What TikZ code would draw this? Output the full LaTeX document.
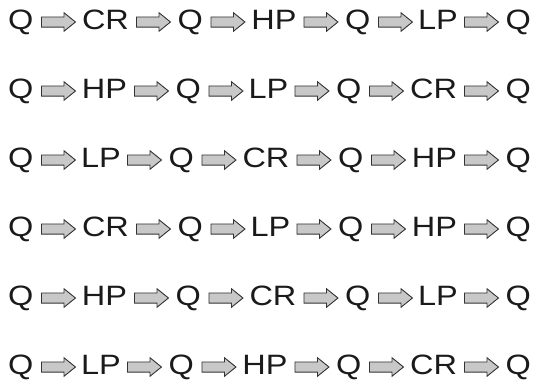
\documentclass[tikz,border=0pt]{standalone}
\usepackage{fontspec}
\setmainfont{Liberation Sans}[FakeStretch=1.16]
\usetikzlibrary{shapes.arrows,positioning}
\definecolor{ink}{HTML}{1A1A1A}
\definecolor{arrowfill}{HTML}{C8C8C8}
\definecolor{arrowline}{HTML}{333333}
% fixed box widths so every row has the same rhythm
\newcommand{\tokbox}[1]{%
  \ifnum\pdfstrcmp{#1}{Q}=0 \makebox[23.5pt]{#1}\else
  \ifnum\pdfstrcmp{#1}{CR}=0 \makebox[44pt]{#1}\else
  \ifnum\pdfstrcmp{#1}{HP}=0 \makebox[42pt]{#1}\else
  \makebox[35pt]{#1}\fi\fi\fi}
\tikzset{
  token/.style={inner sep=0pt, outer sep=0pt, text height=20pt, text depth=0pt,
    font=\fontsize{28}{28}\selectfont, text=ink},
  flow/.style={single arrow, draw=arrowline, fill=arrowfill, line width=0.9pt,
    outer sep=0.45pt, minimum height=34pt, inner xsep=0pt, inner ysep=4.6pt,
    single arrow head extend=4.2pt, single arrow tip angle=78,
    text height=0pt, text depth=0pt, yshift=-2.5pt},
}
\begin{document}
\begin{tikzpicture}[x=1pt,y=1pt,node distance=8.5pt]
\useasboundingbox (0,0) rectangle (537,-383);
\foreach \row/\y/\a/\b/\c in {1/19.5/CR/HP/LP, 2/88.5/HP/LP/CR, 3/157.5/LP/CR/HP,
                             4/226.5/CR/LP/HP, 5/295.5/HP/CR/LP, 6/364.5/LP/HP/CR} {
  \node[token, anchor=west] (r\row-t1) at (9,-\y) {\tokbox{Q}};
  \node[flow, right=of r\row-t1] (r\row-f1) {};
  \node[token, right=of r\row-t1, xshift=42.5pt] (r\row-t2) {\tokbox{\a}};
  \node[flow, right=of r\row-t2] (r\row-f2) {};
  \node[token, right=of r\row-t2, xshift=42.5pt] (r\row-t3) {\tokbox{Q}};
  \node[flow, right=of r\row-t3] (r\row-f3) {};
  \node[token, right=of r\row-t3, xshift=42.5pt] (r\row-t4) {\tokbox{\b}};
  \node[flow, right=of r\row-t4] (r\row-f4) {};
  \node[token, right=of r\row-t4, xshift=42.5pt] (r\row-t5) {\tokbox{Q}};
  \node[flow, right=of r\row-t5] (r\row-f5) {};
  \node[token, right=of r\row-t5, xshift=42.5pt] (r\row-t6) {\tokbox{\c}};
  \node[flow, right=of r\row-t6] (r\row-f6) {};
  \node[token, right=of r\row-t6, xshift=42.5pt] (r\row-t7) {\tokbox{Q}};
}
\end{tikzpicture}
\end{document}
